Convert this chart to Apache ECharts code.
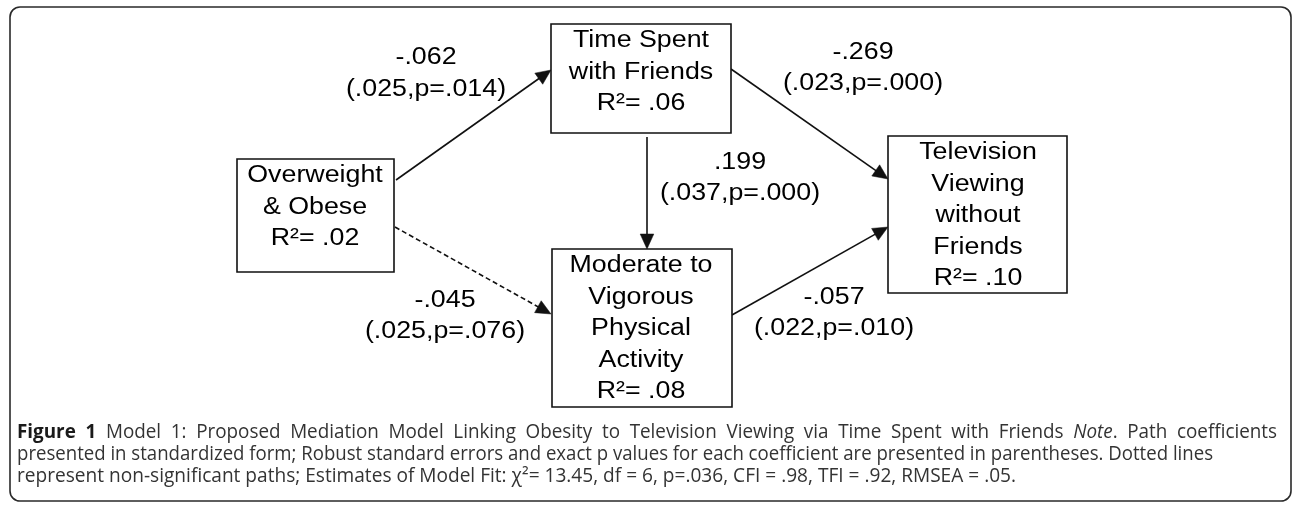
<!DOCTYPE html>
<html>
<head>
<meta charset="utf-8">
<script src="https://cdn.jsdelivr.net/npm/echarts@6/dist/echarts.min.js"></script>
<style>
  html, body { margin: 0; padding: 0; background: #ffffff; }
  #chart { width: 1293px; height: 505px; }
</style>
</head>
<body>
<div id="chart"></div>
<script>
// ---------------- DATA ----------------
const nodeNames = [
  'Overweight\n& Obese',
  'Time Spent\nwith Friends',
  'Moderate to\nVigorous\nPhysical\nActivity',
  'Television\nViewing\nwithout\nFriends'
];
const nodeR2 = ['.02', '.06', '.08', '.10'];

const pathFrom = [0, 0, 1, 1, 2];
const pathTo = [1, 2, 2, 3, 3];
const pathCoef = ['-.062', '-.045', '.199', '-.269', '-.057'];
const pathSE = ['.025', '.025', '.037', '.023', '.022'];
const pathP = ['.014', '.076', '.000', '.000', '.010'];
const pathSignificant = [true, false, true, true, true];

const captionLines = [
  '{b|Figure} {b|1} Model 1: Proposed Mediation Model Linking Obesity to Television Viewing via Time Spent with Friends {i|Note}. Path coefficients',
  'presented in standardized form; Robust standard errors and exact p values for each coefficient are presented in parentheses. Dotted lines',
  'represent non-significant paths; Estimates of Model Fit: \u03c7\u00b2= 13.45, df = 6, p=.036, CFI = .98, TFI = .92, RMSEA = .05.'
];

// ---------------- LAYOUT (diagram units) ----------------
// node boxes: [x0, y0, x1, y1], text block centre: [cx, cy]
const nodeBox = [
  [237, 159, 394, 272],
  [551, 24, 731, 133],
  [552, 249, 732, 407],
  [888, 136, 1067, 293]
];
const nodeTextCenter = [
  [315, 207.5],
  [641, 72.5],
  [641, 329],
  [978, 216]
];
// path anchors: start point, arrow tip, label centre
const pathStart = [[396, 180], [395, 227], [647, 137], [731, 69], [732, 315]];
const pathEnd = [[551, 70], [551, 314], [647, 249], [888, 179], [888, 227]];
const pathLabel = [[426, 73.5], [445, 316], [740, 178], [863, 68], [834, 313]];

// ---------------- STYLE ----------------
const INK = '#111111';
const DIAGRAM_FONT = 'Liberation Sans';
const DIAGRAM_FS = 23.5;
const DIAGRAM_SX = 1.14;
const DIAGRAM_LH = 31.5;

const CAP_FONT = 'Open Sans';
const CAP_FS = 19.5;
const CAP_LEFT = 17;
const CAP_LINE_RIGHT = [1277, 1213, 1016];   // line 1 is justified
const CAP_BASELINES = [440, 462, 484];
const CAP_COLOR = '#333333';

// ---------------- CAPTION BUILD ----------------
const cv = document.createElement('canvas').getContext('2d');
function fontStr(k, fs) {
  return (k === 'i' ? 'italic ' : '') + (k === 'b' ? 'bold ' : '') + fs + 'px "' + CAP_FONT + '"';
}
function parseSegs(word) {
  const out = [];
  const re = /\{(\w)\|([^}]*)\}|([^{]+)/g;
  let m;
  while ((m = re.exec(word))) out.push(m[1] ? { k: m[1], t: m[2] } : { k: 'n', t: m[3] });
  return out;
}
function segW(seg) { cv.font = fontStr(seg.k, CAP_FS); return cv.measureText(seg.t).width; }
function plain(line) { return parseSegs(line).map(s => s.t).join(''); }

cv.font = fontStr('n', CAP_FS);
const spaceW = cv.measureText(' ').width;
const lineScale = captionLines.map((line, li) => {
  cv.font = fontStr('n', CAP_FS);
  return (CAP_LINE_RIGHT[li] - CAP_LEFT) / cv.measureText(plain(line)).width;
});
lineScale[0] = (lineScale[1] + lineScale[2]) / 2;
const middleOffset = 0.388 * CAP_FS;

const captionEls = [];
captionLines.forEach((line, li) => {
  const sc = lineScale[li];
  const words = line.split(' ').map(parseSegs);
  const widths = words.map(ws => ws.reduce((a, s) => a + segW(s), 0));
  const total = widths.reduce((a, b) => a + b, 0);
  let gap = spaceW;
  if (li === 0) gap = ((CAP_LINE_RIGHT[0] - CAP_LEFT) / sc - total) / (words.length - 1);
  let acc = 0;
  words.forEach((ws) => {
    ws.forEach(s => {
      captionEls.push({
        type: 'text',
        x: CAP_LEFT + acc * sc,
        y: CAP_BASELINES[li] - middleOffset,
        scaleX: sc,
        silent: true,
        style: {
          text: s.t,
          fontFamily: CAP_FONT,
          fontSize: CAP_FS,
          fontWeight: s.k === 'b' ? 'bold' : 'normal',
          fontStyle: s.k === 'i' ? 'italic' : 'normal',
          fill: s.k === 'b' ? '#1a1a1a' : CAP_COLOR,
          align: 'left', textAlign: 'left',
          verticalAlign: 'middle', textVerticalAlign: 'middle'
        }
      });
      acc += segW(s);
    });
    acc += gap;
  });
});

// ---------------- CHART ----------------
const chart = echarts.init(document.getElementById('chart'), null, { renderer: 'canvas' });

const nodeData = nodeBox.map((b, i) => [b[0], b[1], b[2], b[3], nodeTextCenter[i][0], nodeTextCenter[i][1]]);
const pathData = pathFrom.map((f, i) => [
  pathStart[i][0], pathStart[i][1], pathEnd[i][0], pathEnd[i][1], pathLabel[i][0], pathLabel[i][1]
]);

function diagramText(x, y, text) {
  return {
    type: 'text', x: x, y: y, scaleX: DIAGRAM_SX, silent: true,
    style: {
      text: text,
      fontFamily: DIAGRAM_FONT, fontSize: DIAGRAM_FS,
      fill: '#000000',
      align: 'center', textAlign: 'center',
      verticalAlign: 'middle', textVerticalAlign: 'middle',
      lineHeight: DIAGRAM_LH
    }
  };
}

const option = {
  animation: false,
  backgroundColor: '#ffffff',
  grid: { left: 0, right: 0, top: 0, bottom: 0 },
  xAxis: { type: 'value', min: 0, max: 1293, show: false },
  yAxis: { type: 'value', min: 0, max: 505, inverse: true, show: false },
  graphic: [
    {
      type: 'rect', silent: true, z: -10,
      shape: { x: 10, y: 7, width: 1281, height: 494, r: 10 },
      style: { fill: 'none', stroke: '#2a2a2a', lineWidth: 1.6 }
    }
  ].concat(captionEls),
  series: [
    {
      type: 'custom',
      name: 'paths',
      coordinateSystem: 'cartesian2d',
      encode: { x: 0, y: 1 },
      clip: false,
      silent: true,
      z: 2,
      data: pathData,
      renderItem: function (params, api) {
        const i = params.dataIndex;
        const a = api.coord([api.value(0), api.value(1)]);
        const b = api.coord([api.value(2), api.value(3)]);
        const lab = api.coord([api.value(4), api.value(5)]);
        const dx = b[0] - a[0], dy = b[1] - a[1];
        const len = Math.sqrt(dx * dx + dy * dy);
        const ux = dx / len, uy = dy / len;
        const L = 15, W = 6.8;
        const base = [b[0] - ux * L, b[1] - uy * L];
        const left = [base[0] - uy * W, base[1] + ux * W];
        const right = [base[0] + uy * W, base[1] - ux * W];
        return {
          type: 'group',
          children: [
            {
              type: 'line',
              shape: { x1: a[0], y1: a[1], x2: base[0] + ux * 2, y2: base[1] + uy * 2 },
              style: {
                stroke: INK, lineWidth: 1.6,
                lineDash: pathSignificant[i] ? null : [5, 3]
              }
            },
            {
              type: 'polygon',
              shape: { points: [b, left, right] },
              style: { fill: INK, stroke: INK, lineWidth: 0.5 }
            },
            diagramText(lab[0], lab[1], pathCoef[i] + '\n(' + pathSE[i] + ',p=' + pathP[i] + ')')
          ]
        };
      }
    },
    {
      type: 'custom',
      name: 'variables',
      coordinateSystem: 'cartesian2d',
      encode: { x: 0, y: 1 },
      clip: false,
      silent: true,
      z: 3,
      data: nodeData,
      renderItem: function (params, api) {
        const i = params.dataIndex;
        const p0 = api.coord([api.value(0), api.value(1)]);
        const p1 = api.coord([api.value(2), api.value(3)]);
        const t = api.coord([api.value(4), api.value(5)]);
        return {
          type: 'group',
          children: [
            {
              type: 'rect',
              shape: { x: p0[0], y: p0[1], width: p1[0] - p0[0], height: p1[1] - p0[1] },
              style: { fill: '#ffffff', stroke: INK, lineWidth: 1.6 }
            },
            diagramText(t[0], t[1], nodeNames[i] + '\nR\u00b2= ' + nodeR2[i])
          ]
        };
      }
    }
  ]
};
chart.setOption(option);
</script>
</body>
</html>
